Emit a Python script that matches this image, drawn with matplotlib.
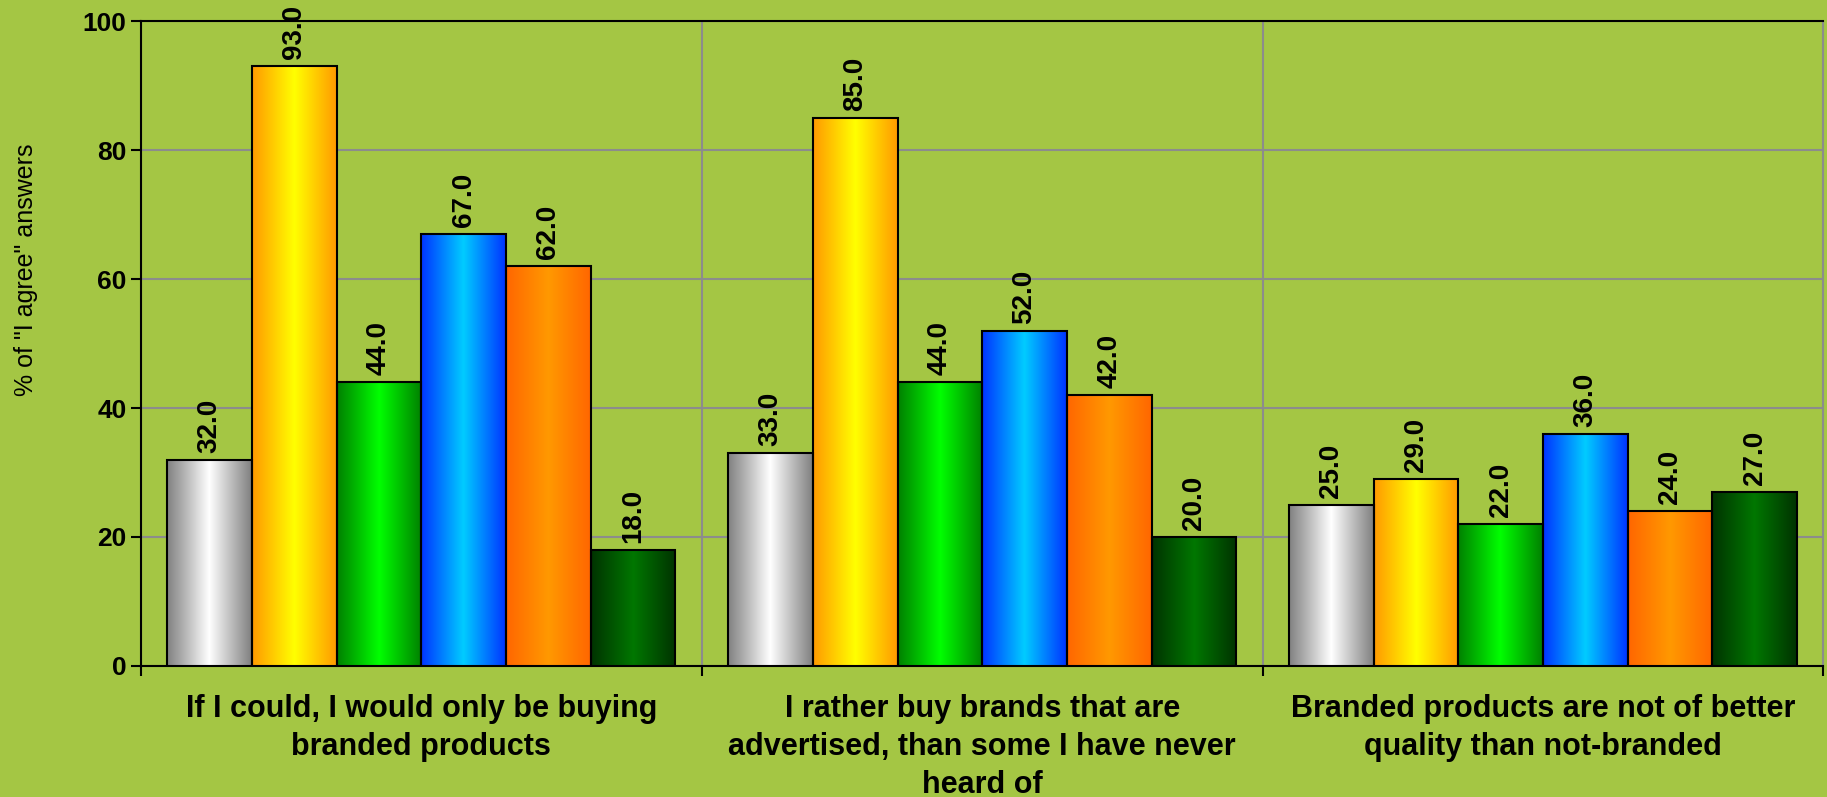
import matplotlib.pyplot as plt
import numpy as np
from matplotlib.colors import LinearSegmentedColormap

plt.rcParams['font.family'] = ['Liberation Sans', 'DejaVu Sans']

categories = ["If I could, I would only be buying\nbranded products",
              "I rather buy brands that are\nadvertised, than some I have never\nheard of",
              "Branded products are not of better\nquality than not-branded"]
s1 = [32, 33, 25]
s2 = [93, 85, 29]
s3 = [44, 44, 22]
s4 = [67, 52, 36]
s5 = [62, 42, 24]
s6 = [18, 20, 27]
series = [s1, s2, s3, s4, s5, s6]

# (edge colour, centre colour) of the horizontal gradient per series
grads = [('#808080', '#ffffff'),
         ('#ff9900', '#ffff00'),
         ('#008000', '#00ff00'),
         ('#0033ff', '#00ccff'),
         ('#ff6600', '#ff9900'),
         ('#003300', '#007700')]

bg = '#a4c644'
fig = plt.figure(figsize=(18.27, 7.97), dpi=100, facecolor=bg)
ax = fig.add_axes([0.0772, 0.1644, 0.9208, 0.8092])
ax.set_facecolor(bg)

x = np.arange(len(categories))
w = 0.151
grad = np.linspace(0, 1, 256).reshape(1, -1)
for i, vals in enumerate(series):
    pos = x + (i - 2.5) * w
    bars = ax.bar(pos, vals, width=w, facecolor='none', edgecolor='black',
                  linewidth=1.5, zorder=4)
    cmap = LinearSegmentedColormap.from_list('g%d' % i,
                                             [grads[i][0], grads[i][1], grads[i][0]])
    for b, v in zip(bars, vals):
        x0 = b.get_x()
        ax.imshow(grad, cmap=cmap, aspect='auto', zorder=3,
                  extent=(x0, x0 + b.get_width(), 0, b.get_height()))
        ax.annotate('%.1f' % v, (x0 + b.get_width() / 2, v), xytext=(0, 5),
                    textcoords='offset points', rotation=90, ha='center',
                    va='bottom', fontsize=20, fontweight='bold')

ax.set_xlim(-0.5, 2.5)
ax.set_ylim(0, 100)
ax.set_yticks([0, 20, 40, 60, 80, 100])
ax.tick_params(axis='y', labelsize=19, length=7, width=1.5, direction='out')
for t in ax.get_yticklabels():
    t.set_fontweight('bold')
ax.set_xticks([-0.5, 0.5, 1.5, 2.5])
ax.set_xticklabels([])
ax.tick_params(axis='x', length=7, width=1.5, direction='out')
ax.set_xticks(x, minor=True)
ax.set_xticklabels(categories, minor=True, fontsize=22, fontweight='bold',
                   linespacing=1.35)
ax.tick_params(axis='x', which='minor', length=0, pad=20)

ax.grid(True, color='#8c8c8c', linewidth=1.5, zorder=0)
ax.set_axisbelow(True)
for s in ['left', 'bottom', 'top']:
    ax.spines[s].set_linewidth(1.5)
ax.spines['right'].set_color('#8c8c8c')

fig.text(26 / 1827, 1 - 270 / 797, '% of "I agree" answers', fontsize=18,
         rotation=90, ha='center', va='center')

fig.savefig('out.png', dpi=100, facecolor=bg)
